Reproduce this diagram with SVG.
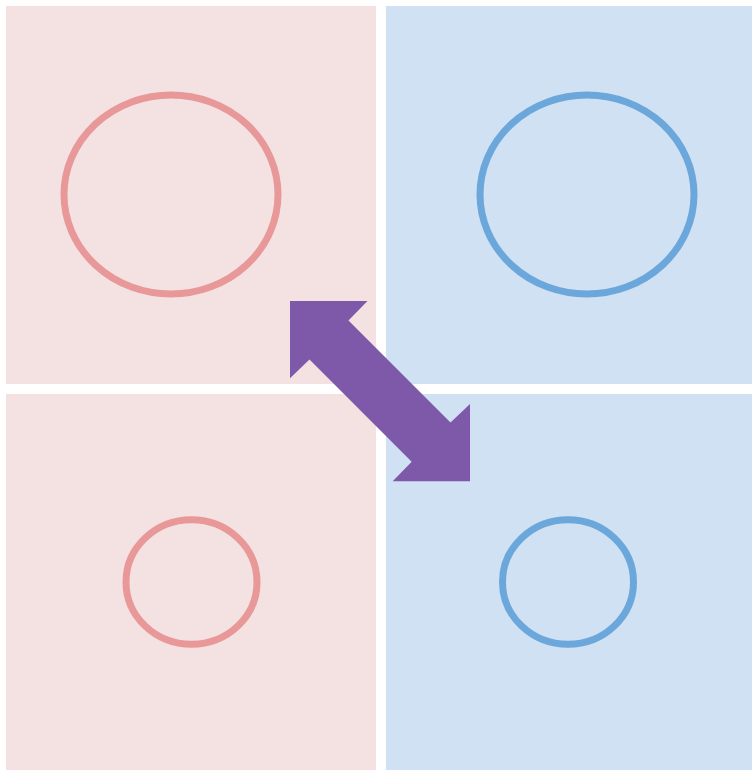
<svg xmlns="http://www.w3.org/2000/svg" width="752" height="770" viewBox="0 0 752 770">
  <style>
    .pinkbg { fill: #f4e2e2; }
    .bluebg { fill: #cfe1f2; }
    .pinkring { fill: none; stroke: #e89898; stroke-width: 7; }
    .bluering { fill: none; stroke: #6ca7dc; stroke-width: 7; }
    .arrow { fill: #7f59a9; }
  </style>
  <rect width="752" height="770" fill="#ffffff"/>
  <g id="top-left">
    <rect class="pinkbg" x="6" y="6" width="370" height="378"/>
    <ellipse class="pinkring" cx="171" cy="194.5" rx="107" ry="99.5"/>
  </g>
  <g id="top-right">
    <rect class="bluebg" x="386" y="6" width="366" height="378"/>
    <ellipse class="bluering" cx="587" cy="194.5" rx="107" ry="99.5"/>
  </g>
  <g id="bottom-left">
    <rect class="pinkbg" x="6" y="394" width="370" height="376"/>
    <ellipse class="pinkring" cx="191.5" cy="582" rx="65.5" ry="62.3"/>
  </g>
  <g id="bottom-right">
    <rect class="bluebg" x="386" y="394" width="366" height="376"/>
    <ellipse class="bluering" cx="568" cy="582" rx="65.5" ry="62.3"/>
  </g>
  <g id="connectors">
    <polygon class="arrow" points="290,301 367.5,301 348.5,320.5 450.5,422.5 470,404 470,481.3 392.7,481.3 411.7,461.7 309.5,359.5 290,378.3"/>
  </g>
</svg>
